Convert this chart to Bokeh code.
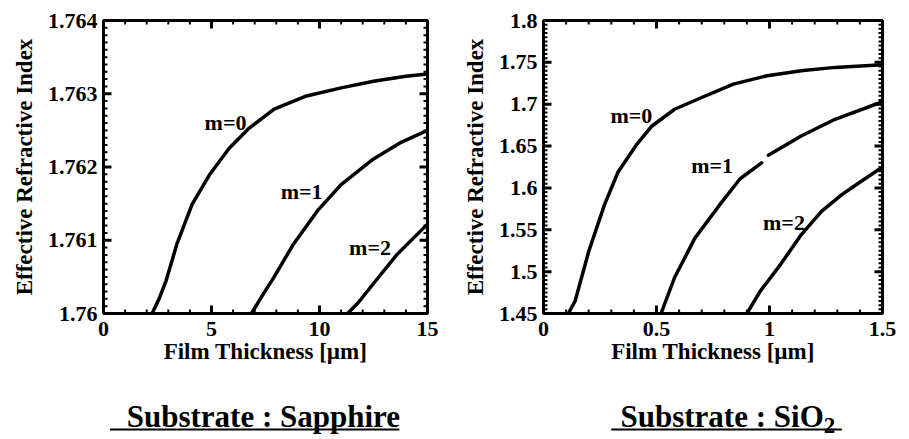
import numpy as np
from bokeh.plotting import figure
from bokeh.layouts import column, row
from bokeh.models import Range1d, FixedTicker
from bokeh.core.properties import value
from bokeh.embed import file_html
from bokeh.resources import INLINE

FONT = "'Liberation Serif', 'Times New Roman', serif"

# ---- Substrate: sapphire (film thickness in um, effective index) ----
sap_m0_t = [2.25, 2.6, 2.9, 3.4, 4.1, 4.9, 5.8, 6.7, 7.9, 9.4, 11.0, 12.5, 14.0, 15.0]
sap_m0_n = [1.76000, 1.76022, 1.76045, 1.76095, 1.76149, 1.76189, 1.76225,
            1.76252, 1.76279, 1.76297, 1.76308, 1.76317, 1.76324, 1.76327]
sap_m1_t = [6.85, 7.3, 7.9, 8.8, 9.9, 11.0, 12.5, 13.8, 15.0]
sap_m1_n = [1.76000, 1.76022, 1.76050, 1.76095, 1.76140, 1.76176, 1.76211, 1.76234, 1.76250]
sap_m2_t = [11.3, 11.8, 12.5, 13.6, 15.0]
sap_m2_n = [1.76000, 1.76015, 1.76041, 1.76081, 1.76122]

sap_x_ticks = [0, 5, 10, 15]
sap_x_labels = ["0", "5", "10", "15"]
sap_y_ticks = [1.760, 1.761, 1.762, 1.763, 1.764]
sap_y_labels = ["1.76", "1.761", "1.762", "1.763", "1.764"]

# ---- Substrate: SiO2 ----
sio_m0_t = [0.11, 0.14, 0.20, 0.27, 0.33, 0.41, 0.48, 0.58, 0.70, 0.84, 0.99, 1.14, 1.29, 1.50]
sio_m0_n = [1.450, 1.465, 1.524, 1.580, 1.619, 1.651, 1.674, 1.694, 1.708, 1.724,
            1.734, 1.740, 1.744, 1.747]
# the m=1 trace has a short break near 1 um
sio_m1_t = [0.52, 0.58, 0.67, 0.78, 0.87, 0.965, np.nan, 0.995, 1.14, 1.29, 1.50]
sio_m1_n = [1.450, 1.493, 1.540, 1.580, 1.611, 1.630, np.nan, 1.639, 1.662, 1.682, 1.703]
sio_m2_t = [0.90, 0.96, 1.05, 1.14, 1.23, 1.32, 1.39, 1.50]
sio_m2_n = [1.450, 1.477, 1.509, 1.544, 1.572, 1.592, 1.605, 1.625]

sio_x_ticks = [0, 0.5, 1.0, 1.5]
sio_x_labels = ["0", "0.5", "1", "1.5"]
sio_y_ticks = [1.45, 1.5, 1.55, 1.6, 1.65, 1.7, 1.75, 1.8]
sio_y_labels = ["1.45", "1.5", "1.55", "1.6", "1.65", "1.7", "1.75", "1.8"]

mode_names = ["m=0", "m=1", "m=2"]
sap_label_t = [5.65, 9.17, 12.34]
sap_label_n = [1.76261, 1.76167, 1.7609]
sio_label_t = [0.389, 0.746, 1.064]
sio_label_n = [1.6866, 1.6268, 1.5587]

PLOT_H = 377
TITLE_H = 439 - PLOT_H


def style_axis(ax, ticks, labels):
    ax.ticker = FixedTicker(ticks=ticks)
    ax.major_label_overrides = dict(zip(ticks, labels))
    ax.axis_line_color = None
    ax.major_tick_in = 0
    ax.major_tick_out = 0
    ax.minor_tick_in = 0
    ax.minor_tick_out = 0
    ax.major_tick_line_color = None
    ax.minor_tick_line_color = None
    ax.major_label_text_font = FONT
    ax.major_label_text_font_style = "bold"
    ax.major_label_text_font_size = "22px"
    ax.major_label_text_color = "black"
    ax.axis_label_text_font = FONT
    ax.axis_label_text_font_style = "bold"
    ax.axis_label_text_font_size = "23px"
    ax.axis_label_text_color = "black"


def inner_ticks(p, xr, yr, fw, fh, xt, xminor, yt, yminor):
    # tick strokes pointing into the frame on all four sides, drawn as one
    # broken polyline per tick size (NaN separates the strokes)
    xspan, yspan = xr[1] - xr[0], yr[1] - yr[0]
    for (xticks, yticks), length, w in (((xminor, yminor), 4, 2), ((xt, yt), 8, 3)):
        dy = length * yspan / fh
        dx = length * xspan / fw
        xs, ys = [], []
        for t in xticks:
            xs += [t, t, np.nan, t, t, np.nan]
            ys += [yr[0], yr[0] + dy, np.nan, yr[1], yr[1] - dy, np.nan]
        for t in yticks:
            xs += [xr[0], xr[0] + dx, np.nan, xr[1], xr[1] - dx, np.nan]
            ys += [t, t, np.nan, t, t, np.nan]
        p.line(xs, ys, line_color="black", line_width=w)


def make_panel(xr, yr, xt, xl, xminor, yt, yl, yminor, curves, lab_t, lab_n,
               width, bl, br, bt, fh):
    p = figure(width=width, height=PLOT_H, x_range=Range1d(*xr), y_range=Range1d(*yr),
               output_backend="svg", toolbar_location=None,
               min_border_left=bl, min_border_right=br, min_border_top=bt,
               min_border_bottom=PLOT_H - bt - fh)
    p.xgrid.grid_line_color = None
    p.ygrid.grid_line_color = None
    p.outline_line_color = "black"
    p.outline_line_width = 3

    style_axis(p.xaxis[0], xt, xl)
    style_axis(p.yaxis[0], yt, yl)
    p.xaxis[0].major_label_standoff = 8
    p.xaxis[0].axis_label_standoff = 0
    p.yaxis[0].major_label_standoff = 6
    p.yaxis[0].axis_label_standoff = 8
    p.xaxis[0].axis_label = "Film Thickness [\u00b5m]"
    p.yaxis[0].axis_label = "Effective Refractive Index"

    inner_ticks(p, xr, yr, width - bl - br, fh, xt, xminor, yt, yminor)

    for t, n in curves:
        p.line(t, n, line_color="black", line_width=3.5, line_join="round", line_cap="round")

    p.text(lab_t, lab_n, text=mode_names, text_font=value(FONT), text_font_style="bold",
           text_font_size="22px", text_align="center", text_baseline="middle",
           text_color="black")
    return p


sap_xr, sap_yr = (0.0, 15.0), (1.760, 1.764)
sap = make_panel(sap_xr, sap_yr, sap_x_ticks, sap_x_labels,
                 [float(v) for v in np.arange(0, 15.01, 1.0)],
                 sap_y_ticks, sap_y_labels, [float(v) for v in np.arange(1.760, 1.76401, 0.0001)],
                 [(sap_m0_t, sap_m0_n), (sap_m1_t, sap_m1_n), (sap_m2_t, sap_m2_n)],
                 sap_label_t, sap_label_n, width=455, bl=103, br=28, bt=20, fh=297)

sio_xr, sio_yr = (0.0, 1.5), (1.45, 1.8)
sio = make_panel(sio_xr, sio_yr, sio_x_ticks, sio_x_labels,
                 [float(v) for v in np.arange(0, 1.501, 0.1)],
                 sio_y_ticks, sio_y_labels, [float(v) for v in np.arange(1.45, 1.8001, 0.005)],
                 [(sio_m0_t, sio_m0_n), (sio_m1_t, sio_m1_n), (sio_m2_t, sio_m2_n)],
                 sio_label_t, sio_label_n, width=454, bl=88, br=27, bt=17, fh=296)


def title_panel(xr, bl, br, width):
    t = figure(width=width, height=TITLE_H, x_range=Range1d(*xr), y_range=Range1d(0, TITLE_H),
               output_backend="svg", toolbar_location=None,
               x_axis_location=None, y_axis_location=None,
               min_border_left=bl, min_border_right=br, min_border_top=0, min_border_bottom=0)
    t.xgrid.grid_line_color = None
    t.ygrid.grid_line_color = None
    t.outline_line_color = None
    return t


t1 = title_panel(sap_xr, 103, 28, 455)
t1.text([7.4], [23], text=["Substrate : Sapphire"], text_font=value(FONT),
        text_font_style="bold", text_font_size="31px", text_align="center",
        text_baseline="middle", text_color="black")
t1.segment(x0=[0.3], y0=[10], x1=[13.7], y1=[10], line_color="black", line_width=2)

t2 = title_panel(sio_xr, 88, 27, 454)
t2.text([1.24], [23], text=["Substrate : SiO"], text_font=value(FONT),
        text_font_style="bold", text_font_size="31px", text_align="right",
        text_baseline="middle", text_color="black")
t2.text([1.24], [14], text=["2"], text_font=value(FONT),
        text_font_style="bold", text_font_size="23px", text_align="left",
        text_baseline="middle", text_color="black")
t2.segment(x0=[0.3], y0=[10], x1=[1.32], y1=[10], line_color="black", line_width=2)

layout = column(row(sap, sio), row(t1, t2))
open("out.html", "w").write(file_html(layout, INLINE))
